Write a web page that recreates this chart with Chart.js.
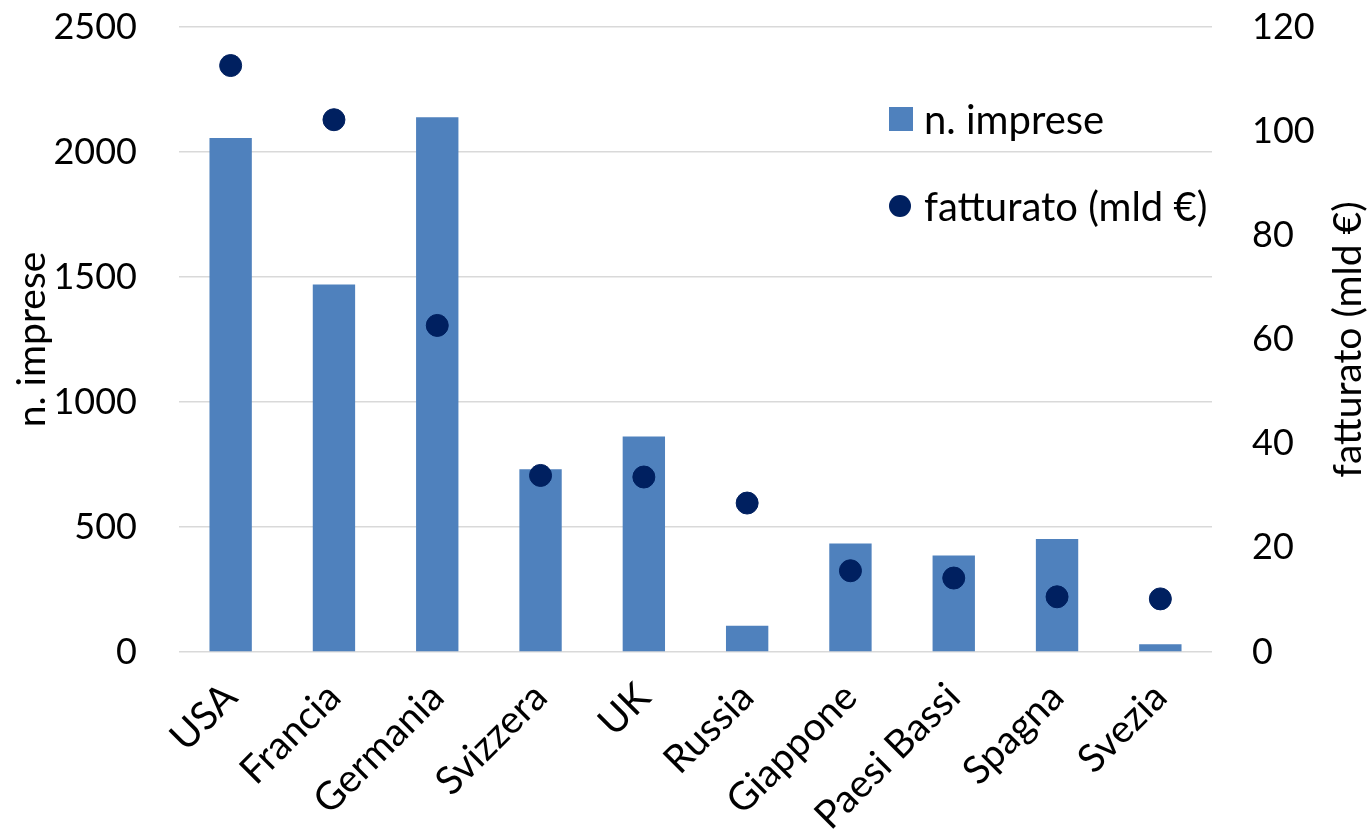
<!DOCTYPE html>
<html>
<head>
<meta charset="utf-8">
<script src="https://cdn.jsdelivr.net/npm/chart.js@4.4.0/dist/chart.umd.min.js"></script>
<style>
  html, body { margin: 0; padding: 0; background: #fff; overflow: hidden; }
  #wrap { position: relative; width: 1370px; height: 834px; }
  #legend { position: absolute; left: 889px; top: 94px; font-family: Lato, sans-serif; font-size: 40px; color: #000; }
  .item { display: flex; align-items: center; height: 50px; margin-bottom: 37px; }
  .sw { width: 24px; height: 24px; margin-right: 11px; }
  .dot { width: 22px; height: 22px; border-radius: 50%; margin-right: 13px; }
</style>
</head>
<body>
<div id="wrap">
  <canvas id="chart" width="1370" height="834"></canvas>
  <div id="legend"></div>
</div>
<script>
// data
const countries = ['USA', 'Francia', 'Germania', 'Svizzera', 'UK', 'Russia', 'Giappone', 'Paesi Bassi', 'Spagna', 'Svezia'];
const imprese = [2056, 1470, 2139, 731, 862, 105, 434, 386, 452, 31];
const fatturato = [112.6, 102.2, 62.7, 33.9, 33.6, 28.6, 15.6, 14.2, 10.6, 10.2];
const impreseTicks = [0, 500, 1000, 1500, 2000, 2500];
const fatturatoTicks = [0, 20, 40, 60, 80, 100, 120];

const barColor = '#4F81BD';
const dotColor = '#002060';
const family = 'Lato, sans-serif';
const numFont = { family: family, size: 36 };
const textFont = { family: family, size: 39 };

// axis titles drawn bottom-to-top on both sides, like the original
const axisTitles = {
  id: 'axisTitles',
  afterDraw(chart) {
    const ctx = chart.ctx;
    const mid = (chart.chartArea.top + chart.chartArea.bottom) / 2;
    ctx.save();
    ctx.font = '39px ' + family;
    ctx.fillStyle = '#000';
    ctx.textAlign = 'center';
    ctx.textBaseline = 'middle';
    [['n. imprese', 32], ['fatturato (mld €)', 1348]].forEach(function(t) {
      ctx.save();
      ctx.translate(t[1], mid);
      ctx.rotate(-Math.PI / 2);
      ctx.fillText(t[0], 0, 0);
      ctx.restore();
    });
    ctx.restore();
  }
};

function noPad(scale) {
  scale.paddingTop = 0;
  scale.paddingBottom = 0;
  scale.paddingLeft = 0;
  scale.paddingRight = 0;
}

const chart = new Chart(document.getElementById('chart'), {
  type: 'bar',
  data: {
    labels: countries,
    datasets: [{
      type: 'line',
      label: 'fatturato (mld €)',
      data: fatturato,
      yAxisID: 'y1',
      showLine: false,
      pointRadius: 11,
      pointBackgroundColor: dotColor,
      pointBorderColor: dotColor,
      backgroundColor: dotColor,
      order: 0
    }, {
      label: 'n. imprese',
      data: imprese,
      yAxisID: 'y',
      backgroundColor: barColor,
      barPercentage: 0.41,
      categoryPercentage: 1,
      order: 1
    }]
  },
  options: {
    responsive: false,
    animation: false,
    events: [],
    layout: { padding: { top: 27, left: 0, right: 0, bottom: 0 } },
    plugins: { legend: { display: false }, tooltip: { enabled: false } },
    scales: {
      x: {
        grid: { display: false },
        border: { display: false },
        ticks: { font: textFont, color: '#000', maxRotation: 45, minRotation: 45, padding: 14 },
        afterFit(scale) { scale.height = 182; noPad(scale); }
      },
      y: {
        position: 'left',
        min: 0, max: 2500,
        afterBuildTicks(scale) { scale.ticks = impreseTicks.map(v => ({ value: v })); },
        grid: { color: '#d9d9d9', lineWidth: 1.5, drawTicks: false },
        border: { display: false },
        ticks: { font: numFont, color: '#000', padding: 42, callback: v => String(v) },
        afterFit(scale) { scale.width = 179; noPad(scale); }
      },
      y1: {
        position: 'right',
        min: 0, max: 120,
        afterBuildTicks(scale) { scale.ticks = fatturatoTicks.map(v => ({ value: v })); },
        grid: { drawOnChartArea: false, drawTicks: false },
        border: { display: false },
        ticks: { font: numFont, color: '#000', padding: 40, callback: v => String(v) },
        afterFit(scale) { scale.width = 158; noPad(scale); }
      }
    }
  },
  plugins: [axisTitles]
});

// legend
const legend = document.getElementById('legend');
[['sw', barColor, 'n. imprese'], ['dot', dotColor, 'fatturato (mld €)']].forEach(function(it) {
  const row = document.createElement('div');
  row.className = 'item';
  const mark = document.createElement('span');
  mark.className = it[0];
  mark.style.background = it[1];
  const txt = document.createElement('span');
  txt.textContent = it[2];
  row.appendChild(mark);
  row.appendChild(txt);
  legend.appendChild(row);
});
</script>
</body>
</html>
